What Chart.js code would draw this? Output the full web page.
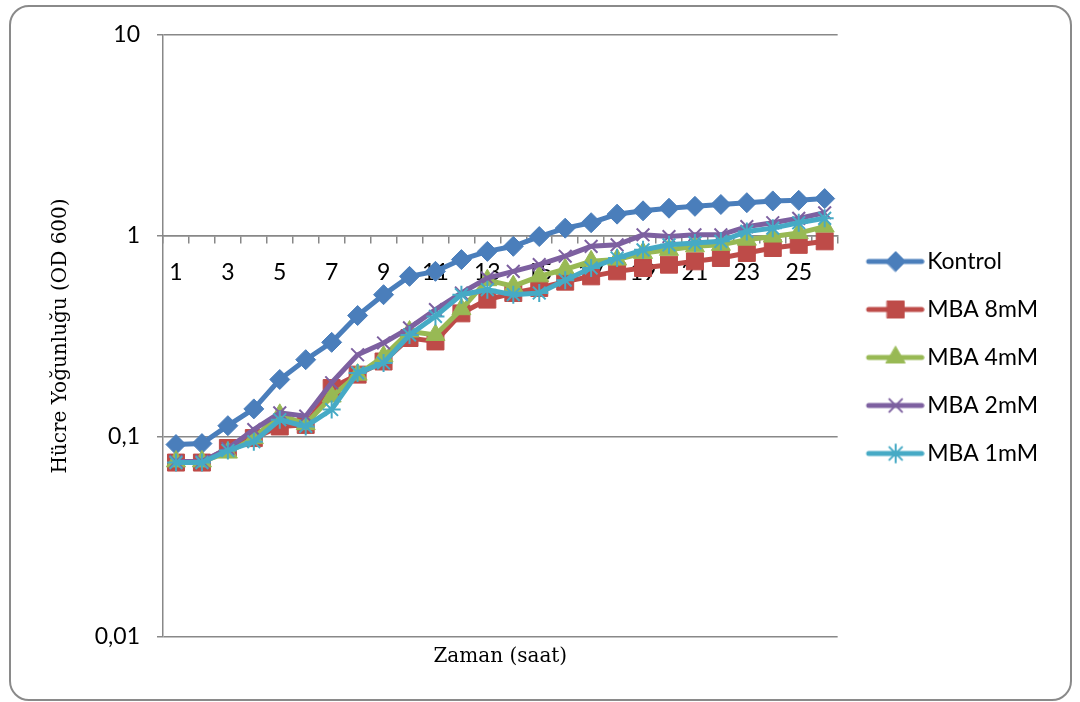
<!DOCTYPE html>
<html>
<head>
<meta charset="utf-8">
<script src="https://cdn.jsdelivr.net/npm/chart.js@4/dist/chart.umd.min.js"></script>
<style>
  html, body { margin: 0; padding: 0; background: #ffffff; }
  #wrap { position: relative; width: 1080px; height: 702px; overflow: hidden; }
  #frame { position: absolute; left: 9px; top: 5px; width: 1063px; height: 696px;
           box-sizing: border-box; border: 2px solid #8a8a8a; border-radius: 20px; pointer-events: none; }
  canvas { position: absolute; left: 0; top: 0; }
</style>
</head>
<body>
<div id="wrap">
  <canvas id="c" width="1080" height="702"></canvas>
  <div id="frame"></div>
</div>
<script>
// ---- data ----
const hours = ['1','2','3','4','5','6','7','8','9','10','11','12','13','14','15','16','17','18','19','20','21','22','23','24','25','26'];
const seriesNames = ['Kontrol', 'MBA 8mM', 'MBA 4mM', 'MBA 2mM', 'MBA 1mM'];
const kontrol = [0.091,0.092,0.113,0.137,0.192,0.241,0.294,0.40,0.508,0.627,0.664,0.76,0.835,0.885,0.99,1.09,1.16,1.28,1.33,1.37,1.40,1.43,1.46,1.49,1.50,1.53];
const mba8 = [0.074,0.074,0.0875,0.098,0.112,0.114,0.174,0.203,0.236,0.309,0.297,0.41,0.48,0.518,0.549,0.59,0.627,0.664,0.69,0.717,0.745,0.774,0.82,0.868,0.90,0.937];
const mba4 = [0.075,0.075,0.083,0.098,0.128,0.115,0.158,0.203,0.25,0.333,0.32,0.43,0.60,0.56,0.627,0.68,0.745,0.76,0.82,0.85,0.885,0.90,0.955,0.99,1.03,1.11];
const mba2 = [0.075,0.075,0.087,0.108,0.131,0.126,0.185,0.255,0.292,0.347,0.428,0.518,0.615,0.664,0.717,0.79,0.885,0.90,1.01,0.99,1.01,1.01,1.11,1.16,1.22,1.30];
const mba1 = [0.074,0.074,0.085,0.094,0.121,0.112,0.136,0.207,0.232,0.32,0.396,0.508,0.538,0.508,0.518,0.60,0.69,0.774,0.85,0.90,0.92,0.937,1.05,1.09,1.16,1.22];
const yTicks = [0.01, 0.1, 1, 10];
const yTickLabels = ['0,01', '0,1', '1', '10'];
const xTitle = 'Zaman (saat)';
const yTitle = 'Hücre Yoğunluğu (OD 600)';

// ---- styles ----
const allValues = [kontrol, mba8, mba4, mba2, mba1];
const colors = ['#4A7EBB', '#BE4B48', '#98B954', '#7D60A0', '#46AAC5'];
const pStyles = ['rectRot', 'rect', 'triangle', 'crossRot', 'star'];
const pRadius = [10, 12, 11, 9, 9];
const pBorder = [1, 1, 1, 2, 2];
const GRID = '#888888';
const SANS = 'Lato, "Open Sans", "Liberation Sans", sans-serif';
const SERIF = '"DejaVu Serif", "Liberation Serif", serif';

// legend icons (line + marker)
function makeIcon(i) {
  const cv = document.createElement('canvas');
  cv.width = 71; cv.height = 26;
  const ctx = cv.getContext('2d');
  ctx.strokeStyle = colors[i];
  ctx.lineWidth = 5;
  ctx.lineCap = 'round';
  ctx.beginPath(); ctx.moveTo(15, 13); ctx.lineTo(68, 13); ctx.stroke();
  ctx.fillStyle = colors[i];
  ctx.strokeStyle = colors[i];
  ctx.lineWidth = pBorder[i];
  Chart.helpers.drawPoint(ctx, {pointStyle: pStyles[i], radius: pRadius[i], rotation: 0, borderWidth: pBorder[i]}, 42, 13);
  return cv;
}
const icons = seriesNames.map((_, i) => makeIcon(i));

const datasets = seriesNames.map((name, i) => ({
  label: name,
  data: allValues[i],
  borderColor: colors[i],
  backgroundColor: colors[i],
  borderWidth: 5,
  tension: 0,
  pointStyle: pStyles[i],
  pointRadius: pRadius[i],
  pointBorderWidth: pBorder[i],
  pointBackgroundColor: colors[i],
  pointBorderColor: colors[i],
  order: -i
}));

new Chart(document.getElementById('c'), {
  type: 'line',
  data: { labels: hours, datasets },
  options: {
    responsive: false,
    animation: false,
    devicePixelRatio: 1,
    layout: { padding: { left: 20, top: 35, right: 32, bottom: 22 } },
    scales: {
      x: {
        type: 'category',
        position: { y: 1 },
        offset: true,
        grid: { drawOnChartArea: false, drawTicks: true, tickLength: 7, color: GRID, lineWidth: 1.5, offset: true },
        border: { display: true, color: GRID, width: 1.5 },
        ticks: {
          autoSkip: false, maxRotation: 0, padding: 16, color: '#000',
          font: { family: SANS, size: 23 },
          callback: (v, i) => (i % 2 === 0 ? hours[i] : '')
        }
      },
      x2: {
        type: 'category',
        position: 'bottom',
        offset: true,
        grid: { display: false },
        border: { display: false },
        ticks: { display: false },
        title: { display: true, text: xTitle, color: '#000', font: { family: SERIF, size: 20 }, padding: { top: 0, bottom: 11 } }
      },
      y: {
        type: 'logarithmic',
        position: 'left',
        min: 0.01,
        max: 10,
        afterBuildTicks: (s) => { s.ticks = yTicks.map(v => ({ value: v })); },
        afterFit: (s) => { s.width = 143; },
        grid: { color: GRID, lineWidth: 1.5, tickLength: 6 },
        border: { display: true, color: GRID, width: 1.5 },
        ticks: {
          padding: 17, color: '#000',
          font: { family: SANS, size: 23 },
          callback: (v) => { const k = yTicks.indexOf(v); return k >= 0 ? yTickLabels[k] : ''; }
        },
        title: { display: true, text: yTitle, color: '#000', font: { family: SERIF, size: 20 }, padding: { top: 29, bottom: 0 } }
      }
    },
    plugins: {
      tooltip: { enabled: false },
      legend: {
        position: 'right',
        labels: {
          usePointStyle: true,
          pointStyleWidth: 53,
          padding: 25,
          color: '#000',
          font: { family: SANS, size: 23 },
          generateLabels: (chart) => chart.data.datasets.map((ds, i) => ({
            text: ds.label,
            pointStyle: icons[i],
            fillStyle: colors[i],
            strokeStyle: colors[i],
            lineWidth: 0,
            hidden: false,
            datasetIndex: i,
            fontColor: '#000'
          }))
        }
      }
    }
  }
});
</script>
</body>
</html>
